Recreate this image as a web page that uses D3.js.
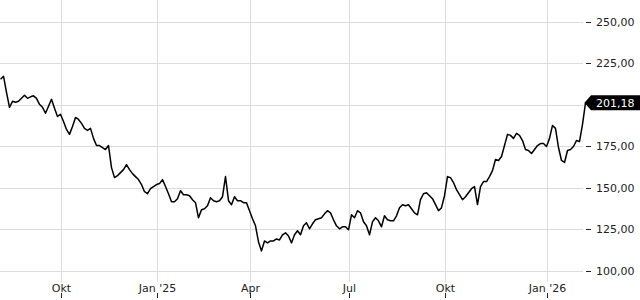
<!DOCTYPE html>
<html>
<head>
<meta charset="utf-8">
<script src="https://d3js.org/d3.v7.min.js"></script>
<style>
    body { margin: 0; background: #fff; }
    svg text { font-family: "DejaVu Sans", sans-serif; font-size: 11px; fill: #222; }
    .grid line { stroke: #dcdcdc; stroke-width: 1; }
    .ticks line { stroke: #222; stroke-width: 1; }
</style>
</head>
<body>
<svg width="640" height="300"></svg>
<script>

    // closing prices, one per session
    var prices = [
        215.4, 217.2, 207.5, 198.5, 202.1, 201.5, 202.1, 203.9, 205.7, 203.9,
        204.8, 205.4, 203.9, 200.3, 198.5, 194.9, 199.1, 203.3, 197.9, 193.0,
        194.3, 190.0, 185.2, 182.2, 187.0, 192.4, 191.2, 188.8, 185.8, 184.6,
        185.8, 179.8, 175.5, 175.5, 174.3, 173.1, 175.5, 162.2, 156.2, 157.4,
        159.2, 161.0, 164.0, 161.0, 158.6, 156.8, 155.0, 152.0, 147.7, 146.5,
        149.5, 150.8, 152.0, 152.6, 155.0, 150.8, 146.5, 141.7, 141.7, 143.5,
        148.3, 145.9, 145.9, 145.3, 142.9, 141.1, 132.0, 136.9, 137.5, 139.3,
        144.1, 142.3, 141.7, 142.3, 144.7, 156.8, 142.3, 139.9, 144.7, 142.3,
        142.3, 141.1, 141.1, 136.3, 131.4, 127.2, 117.5, 112.1, 118.1, 116.9,
        118.1, 118.1, 119.3, 118.7, 121.8, 123.0, 121.1, 116.9, 121.8, 124.2,
        121.8, 127.2, 129.0, 125.4, 128.4, 130.8, 131.4, 132.0, 134.4, 136.3,
        135.0, 130.8, 127.2, 125.4, 126.6, 126.6, 124.8, 133.8, 132.0, 136.3,
        135.0, 129.6, 127.2, 121.8, 129.6, 132.0, 130.2, 126.6, 133.2, 130.8,
        130.2, 130.2, 133.2, 138.1, 139.9, 139.3, 139.9, 137.5, 135.0, 133.8,
        142.9, 146.5, 147.1, 145.3, 143.5, 139.9, 136.3, 138.1, 145.3, 156.8,
        156.2, 153.2, 148.9, 145.9, 142.9, 144.7, 147.1, 149.5, 150.8, 140.0,
        150.8, 153.8, 153.8, 156.8, 160.4, 167.1, 166.5, 168.9, 175.5, 182.2,
        181.6, 179.8, 182.8, 181.6, 178.5, 173.1, 172.5, 170.7, 173.1, 175.5,
        176.7, 176.7, 174.9, 179.8, 187.6, 185.8, 174.3, 166.5, 165.3, 172.5,
        173.1, 174.9, 178.5, 177.9, 188.2, 201.18
    ];

    // x axis: session index of each month label
    var monthLabels = ["Okt", "Jan '25", "Apr", "Jul", "Okt", "Jan '26"];
    var monthIndex = [20, 52, 83, 116, 148, 182];

    var priceTicks = [100, 125, 150, 175, 200, 225, 250];

    var svg = d3.select("svg");

    var de = d3.formatLocale({decimal: ",", thousands: ".", grouping: [3], currency: ["", " €"]});
    var fmt = de.format(",.2f");

    var x = d3.scaleLinear().domain([0, prices.length - 1]).range([0.5, 585.5]);
    var y = d3.scaleLinear().domain([100, 250]).range([271, 21.7]);

    var plotRight = 583;

    // grid
    var grid = svg.append("g").attr("class", "grid");
    grid.selectAll("line.h")
        .data(priceTicks)
        .enter().append("line")
        .attr("class", "h")
        .attr("x1", 0).attr("x2", plotRight)
        .attr("y1", function(d) { return Math.round(y(d)) + 0.5; })
        .attr("y2", function(d) { return Math.round(y(d)) + 0.5; });

    grid.selectAll("line.v")
        .data(monthIndex)
        .enter().append("line")
        .attr("class", "v")
        .attr("x1", function(d) { return Math.round(x(d)) + 0.5; })
        .attr("x2", function(d) { return Math.round(x(d)) + 0.5; })
        .attr("y1", 0).attr("y2", 282);

    // right axis (200 is hidden behind the last price tag)
    var yAxis = svg.append("g").attr("class", "ticks");
    var yTicks = priceTicks.filter(function(d) { return d !== 200; });
    yAxis.selectAll("line")
        .data(yTicks)
        .enter().append("line")
        .attr("x1", 586).attr("x2", 591)
        .attr("y1", function(d) { return Math.round(y(d)) + 0.5; })
        .attr("y2", function(d) { return Math.round(y(d)) + 0.5; });
    yAxis.selectAll("text")
        .data(yTicks)
        .enter().append("text")
        .attr("x", 596)
        .attr("y", function(d) { return y(d); })
        .attr("dy", "0.36em")
        .text(function(d) { return fmt(d); });

    // bottom axis
    var xAxis = svg.append("g").attr("class", "ticks");
    xAxis.selectAll("line")
        .data(monthIndex)
        .enter().append("line")
        .attr("x1", function(d) { return Math.round(x(d)) + 0.5; })
        .attr("x2", function(d) { return Math.round(x(d)) + 0.5; })
        .attr("y1", 293).attr("y2", 298);
    xAxis.selectAll("text")
        .data(monthIndex)
        .enter().append("text")
        .attr("x", function(d) { return Math.round(x(d)) + 0.5; })
        .attr("y", 292)
        .attr("text-anchor", "middle")
        .text(function(d, i) { return monthLabels[i]; });

    // price line
    var line = d3.line()
        .x(function(d, i) { return x(i); })
        .y(function(d) { return y(d); });

    svg.append("path")
        .datum(prices)
        .attr("fill", "none")
        .attr("stroke", "#000")
        .attr("stroke-width", 1.5)
        .attr("stroke-linejoin", "round")
        .attr("d", line);

    // last price tag
    var last = prices[prices.length - 1];
    var ly = y(last);
    svg.append("path")
        .attr("fill", "#000")
        .attr("d", "M584.5," + ly + "L591," + (ly - 7.5) + "L640," + (ly - 7.5) +
                   "L640," + (ly + 7.5) + "L591," + (ly + 7.5) + "Z");
    svg.append("text")
        .attr("x", 596)
        .attr("y", ly)
        .attr("dy", "0.36em")
        .style("fill", "#fff")
        .text(fmt(last));

</script>
</body>
</html>
